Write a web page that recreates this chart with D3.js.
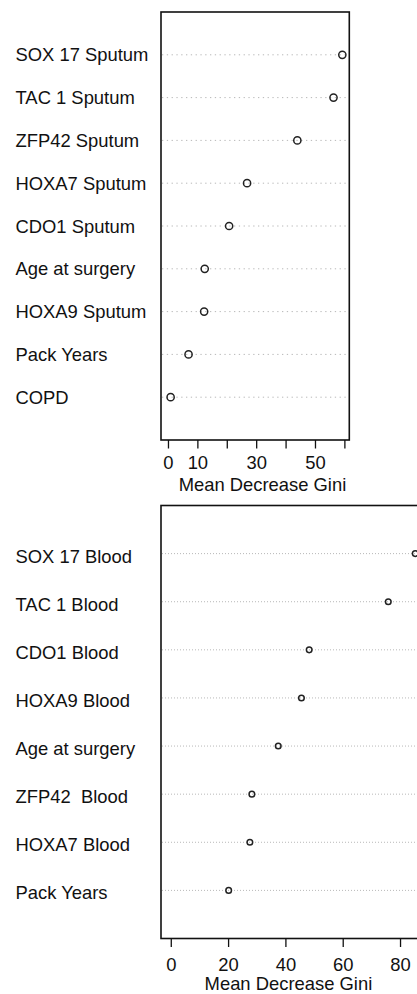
<!DOCTYPE html>
<html>
<head>
<meta charset="utf-8">
<script src="https://cdn.jsdelivr.net/npm/d3@7"></script>
<style>
  html, body { margin: 0; padding: 0; background: #fff; }
  svg { display: block; }
  text { font-family: "Liberation Sans", Arial, Helvetica, sans-serif; fill: #111; }
</style>
</head>
<body>
<script>
// Variable importance (Mean Decrease Gini), sputum model
const sputumVars = ["SOX 17 Sputum", "TAC 1 Sputum", "ZFP42 Sputum", "HOXA7 Sputum",
  "CDO1 Sputum", "Age at surgery", "HOXA9 Sputum", "Pack Years", "COPD"];
const sputumGini = [59.3, 56.3, 44.0, 26.9, 20.8, 12.5, 12.3, 7.0, 0.9];
const sputumTicks = [0, 10, 20, 30, 40, 50, 60];
const sputumTickLabels = [0, 10, 30, 50];

// Variable importance (Mean Decrease Gini), blood model
const bloodVars = ["SOX 17 Blood", "TAC 1 Blood", "CDO1 Blood", "HOXA9 Blood",
  "Age at surgery", "ZFP42  Blood", "HOXA7 Blood", "Pack Years"];
const bloodGini = [85.3, 75.9, 48.3, 45.6, 37.5, 28.3, 27.6, 20.2];
const bloodTicks = [0, 20, 40, 60, 80];
const bloodTickLabels = [0, 20, 40, 60, 80];

const W = 417, H = 994;
const FS = 18.4;
const svg = d3.select("body").append("svg").attr("width", W).attr("height", H);

function dotchart(cfg) {
  const { vars, vals, ticks, tickLabels, box, r, dash, labelDy } = cfg;
  const n = vars.length;
  // x limits: range of (0, values) padded by 4% as in a standard dot chart
  const mx = d3.max(vals);
  const pad = mx * 0.04;
  const x = d3.scaleLinear().domain([-pad, mx + pad]).range([box.left, box.right]);
  const y = d3.scaleLinear().domain([0, n + 1]).range([box.bottom, box.top]);
  const g = svg.append("g");

  // dotted guide lines, first variable at top
  g.selectAll("line.guide").data(vars).join("line")
    .attr("class", "guide")
    .attr("x1", box.left + 1).attr("x2", box.right - 1)
    .attr("y1", (d, i) => y(n - i)).attr("y2", (d, i) => y(n - i))
    .attr("stroke", "#b8b8b8").attr("stroke-width", 1)
    .attr("stroke-dasharray", dash);

  // plot box
  g.append("rect")
    .attr("x", box.left).attr("y", box.top)
    .attr("width", box.right - box.left).attr("height", box.bottom - box.top)
    .attr("fill", "none").attr("stroke", "#111").attr("stroke-width", 1.6);

  // points
  g.selectAll("circle").data(vals).join("circle")
    .attr("cx", d => x(d)).attr("cy", (d, i) => y(n - i)).attr("r", r)
    .attr("fill", "none").attr("stroke", "#222").attr("stroke-width", 1.5);

  // variable labels
  g.selectAll("text.lab").data(vars).join("text")
    .attr("class", "lab")
    .attr("x", 15.5).attr("y", (d, i) => y(n - i) + 6.5 + labelDy)
    .attr("font-size", FS)
    .attr("xml:space", "preserve")
    .style("white-space", "pre")
    .text(d => d);

  // x axis along the bottom edge of the box
  const axis = d3.axisBottom(x).tickValues(ticks).tickSize(8.5)
    .tickFormat(d => tickLabels.includes(d) ? String(d) : "");
  const ag = g.append("g").attr("transform", `translate(0,${box.bottom})`).call(axis);
  ag.select(".domain").remove();
  ag.selectAll(".tick line").attr("stroke", "#111").attr("stroke-width", 1.3);
  ag.selectAll(".tick text")
    .attr("font-size", FS).attr("font-family", "Liberation Sans, Arial, sans-serif")
    .attr("fill", "#111").attr("dy", null).attr("y", cfg.tickBase - box.bottom);

  g.append("text")
    .attr("x", (x(0) + x(mx)) / 2 + cfg.titleDx).attr("y", cfg.titleBase)
    .attr("text-anchor", "middle").attr("font-size", FS)
    .text("Mean Decrease Gini");
}

dotchart({
  vars: sputumVars, vals: sputumGini, ticks: sputumTicks, tickLabels: sputumTickLabels,
  box: { left: 161, right: 349.3, top: 12, bottom: 440 },
  r: 3.6, dash: "1.3,3.5", labelDy: 0,
  tickBase: 468.5, titleBase: 490.5, titleDx: 7.3
});

dotchart({
  vars: bloodVars, vals: bloodGini, ticks: bloodTicks, tickLabels: bloodTickLabels,
  box: { left: 161, right: 425, top: 505.5, bottom: 938.5 },
  r: 2.8, dash: "1,2", labelDy: 2.5,
  tickBase: 970.5, titleBase: 990, titleDx: -4.6
});
</script>
</body>
</html>
